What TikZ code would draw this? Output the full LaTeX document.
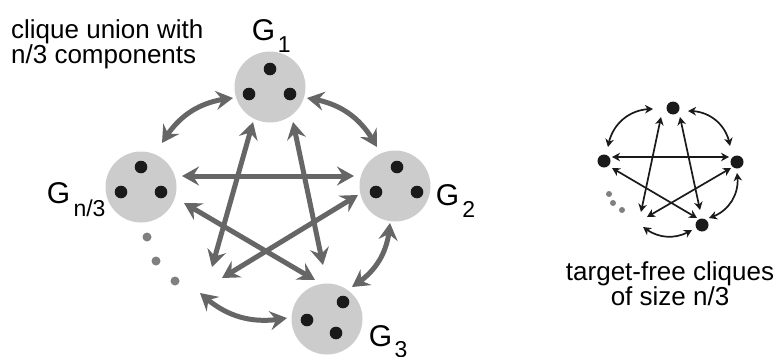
\documentclass[tikz,border=0pt]{standalone}
\usepackage{fontspec}
\setmainfont{Liberation Sans}
\usetikzlibrary{arrows.meta,bending}
\definecolor{circfill}{HTML}{CCCCCC}
\definecolor{arrgray}{HTML}{666666}
\definecolor{dotblack}{HTML}{1A1A1A}
\definecolor{dotgray}{HTML}{808080}
\newcommand{\subf}{\fontsize{23}{23}\selectfont}
\begin{document}
\begin{tikzpicture}[x=1pt,y=-1pt,
  comp/.style={circle, fill=circfill, minimum size=71pt, inner sep=0pt},
  bdot/.style={circle, fill=dotblack, minimum size=12.6pt, inner sep=0pt},
  sdot/.style={circle, fill=dotblack, minimum size=13pt, inner sep=0pt},
  gdot/.style={circle, fill=dotgray, minimum size=9pt, inner sep=0pt},
  gsdot/.style={circle, fill=dotgray, minimum size=6pt, inner sep=0pt},
  glabel/.style={inner sep=0pt, anchor=base west, font=\fontsize{30}{30}\selectfont},
  bigarr/.style={draw=arrgray, line width=5pt,
     {Stealth[length=17pt,width=19pt,inset=6pt]}-{Stealth[length=17pt,width=19pt,inset=6pt]}},
  smallarr/.style={draw=dotblack, line width=1.7pt,
     {Stealth[length=8pt,width=8.5pt,inset=2.5pt]}-{Stealth[length=8pt,width=8.5pt,inset=2.5pt]}}
]
\useasboundingbox (0,0) rectangle (783,356);

% ---------- texts ----------
\node[inner sep=0pt, anchor=north west, align=left, font=\fontsize{26}{25}\selectfont] (t1) at (11,19.3) {clique union with\\n/3 components};
\node[inner sep=0pt, anchor=north, align=center, font=\fontsize{26}{22}\selectfont] (t2) at (670,261.3) {target-free cliques\\of size n/3};

% ---------- components ----------
\node[comp] (G1) at (270,87) {};
\node[comp] (G2) at (395,186) {};
\node[comp] (G3) at (327,319) {};
\node[comp] (Gn) at (141,187) {};

\node[bdot] (g1a) at (270,69) {};
\node[bdot] (g1b) at (249,94) {};
\node[bdot] (g1c) at (290,94) {};
\node[bdot] (g2a) at (397,167) {};
\node[bdot] (g2b) at (376,192) {};
\node[bdot] (g2c) at (417,192) {};
\node[bdot] (g3a) at (343,302) {};
\node[bdot] (g3b) at (307,320) {};
\node[bdot] (g3c) at (336,333) {};
\node[bdot] (gna) at (141,167) {};
\node[bdot] (gnb) at (121,192) {};
\node[bdot] (gnc) at (161,192) {};

\node[glabel] (L1) at (251.6,40) {G\kern2.8pt\raisebox{-12pt}{\subf 1}};
\node[glabel] (L2) at (435.6,205) {G\kern3.2pt\raisebox{-12pt}{\subf 2}};
\node[glabel] (L3) at (368.6,346) {G\kern2.5pt\raisebox{-11pt}{\subf 3}};
\node[glabel] (Ln) at (46.6,203) {G\kern3.4pt\raisebox{-13pt}{\subf n/3}};

\node[gdot] (e1) at (147,237) {};
\node[gdot] (e2) at (156,261) {};
\node[gdot] (e3) at (175,281) {};

% arrow end points
\coordinate (n1) at (162,143); \coordinate (n1b) at (233,98);
\coordinate (p1) at (307,98);  \coordinate (p2) at (377,147);
\coordinate (q2) at (390,223); \coordinate (q3) at (352,287);
\coordinate (r3) at (287,318); \coordinate (rm) at (200,293);
\coordinate (h1) at (182,176); \coordinate (h2) at (354,176);
\coordinate (d1) at (184,203); \coordinate (d2) at (315,280);
\coordinate (s1) at (358,195); \coordinate (s2) at (222,278);
\coordinate (u1) at (253,122); \coordinate (u2) at (212,267);
\coordinate (v1) at (293,122); \coordinate (v2) at (323,265);

\draw[bigarr] (n1) to[bend left=27] (n1b);
\draw[bigarr] (p1) to[bend left=27] (p2);
\draw[bigarr] (q2) to[bend left=27] (q3);
\draw[bigarr] (r3) to[bend left=27] (rm);
\draw[bigarr] (h1) -- (h2);
\draw[bigarr] (d1) -- (d2);
\draw[bigarr] (s1) -- (s2);
\draw[bigarr] (u1) -- (u2);
\draw[bigarr] (v1) -- (v2);

% ---------- small clique ----------
\node[sdot] (T) at (673,108) {};
\node[sdot] (Lf) at (604,161) {};
\node[sdot] (R) at (737,162) {};
\node[sdot] (B) at (702,225) {};
\node[gsdot] (f1) at (609,194) {};
\node[gsdot] (f2) at (613,203) {};
\node[gsdot] (f3) at (622,210) {};

\coordinate (a1) at (608,147); \coordinate (a2) at (653,109);
\coordinate (b1) at (688,111); \coordinate (b2) at (730,146);
\coordinate (c1) at (737,173); \coordinate (c2) at (709,218);
\coordinate (k1) at (692,230); \coordinate (k2) at (643,227);
\coordinate (m1) at (612,157); \coordinate (m2) at (729,157);
\coordinate (o1) at (612,168); \coordinate (o2) at (697,218);
\coordinate (w1) at (661,117); \coordinate (w2) at (641,212);
\coordinate (z1) at (680,117); \coordinate (z2) at (700,210);
\coordinate (y1) at (731,168); \coordinate (y2) at (647,217);

\draw[smallarr] (a1) to[bend left=42] (a2);
\draw[smallarr] (b1) to[bend left=42] (b2);
\draw[smallarr] (c1) to[bend left=42] (c2);
\draw[smallarr] (k1) to[bend left=35] (k2);
\draw[smallarr] (m1) -- (m2);
\draw[smallarr] (o1) -- (o2);
\draw[smallarr] (w1) -- (w2);
\draw[smallarr] (z1) -- (z2);
\draw[smallarr] (y1) -- (y2);
\end{tikzpicture}
\end{document}
